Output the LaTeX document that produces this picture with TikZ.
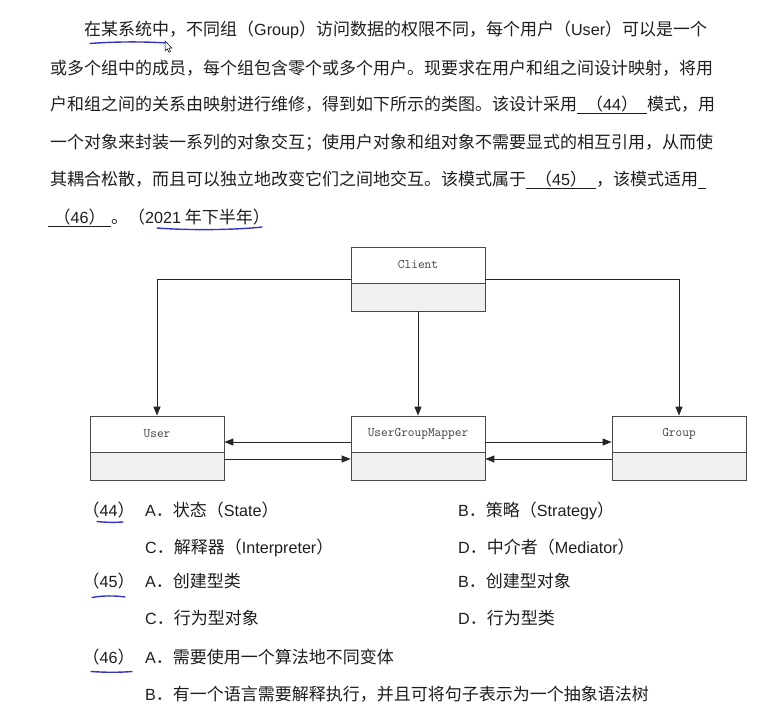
\documentclass[tikz,border=0pt]{standalone}
\usepackage{fontspec}
\usepackage{tikz}
\usetikzlibrary{arrows.meta}
\setmainfont{Noto Sans CJK SC}
\newfontfamily\latfont{Liberation Sans}[Scale=0.95]
\XeTeXlinebreaklocale "zh"
\XeTeXlinebreakskip=0pt plus 1pt
\newcommand\eng[1]{{\latfont #1}}
\newcommand\blank[2]{\makebox[#1]{#2}\hspace{-#1}\rule[-3.5pt]{#1}{0.8pt}}
\definecolor{txtc}{HTML}{1E1E1E}
\definecolor{boxc}{HTML}{4A4A4A}
\definecolor{penc}{HTML}{3535C8}

\begin{document}
\begin{tikzpicture}[x=1pt,y=-1pt,
  >={Triangle[length=9pt,width=7pt]},
  txt/.style={anchor=base west, inner sep=0pt, text=txtc, font=\fontsize{17}{20}\selectfont},
  cls/.style={draw=boxc, line width=0.8pt, fill=white, minimum width=134pt, minimum height=36pt, inner sep=0pt, text=black!75, font=\ttfamily\fontsize{13}{13}\selectfont},
  body/.style={draw=boxc, line width=0.8pt, fill=black!6, minimum width=134pt, minimum height=28pt, inner sep=0pt},
  link/.style={->, line width=0.9pt, draw=black!85},
  penline/.style={draw=penc, line width=1.4pt, line cap=round}]
\fill[white] (0,0) rectangle (777,716);
\useasboundingbox (0,0) rectangle (777,716);

\node[txt] (l1) at (84,35) {\hbox to 626pt{在某系统中，不同组（\eng{Group}）访问数据的权限不同，每个用户（\eng{User}）可以是一个}};
\node[txt] (l2) at (50,74) {\hbox to 663pt{或多个组中的成员，每个组包含零个或多个用户。现要求在用户和组之间设计映射，将用}};
\node[txt] (l3) at (50,110) {户和组之间的关系由映射进行维修，得到如下所示的类图。该设计采用\blank{70pt}{（\eng{44}）}模式，用};
\node[txt] (l4) at (50,148) {\hbox to 663pt{一个对象来封装一系列的对象交互；使用户对象和组对象不需要显式的相互引用，从而使}};
\node[txt] (l5) at (50,185) {其耦合松散，而且可以独立地改变它们之间地交互。该模式属于\blank{70pt}{（\eng{45}）}，该模式适用\rule[-3.5pt]{8pt}{0.8pt}};
\node[txt] (l6) at (48,223) {\blank{63pt}{（\eng{46}）}。（\eng{2021} 年下半年）};

\node[cls] (client) at (418,265) {Client};
\node[body] (clientb) at (418,297) {};
\node[cls] (user) at (157,434) {User};
\node[body] (userb) at (157,466) {};
\node[cls] (mapper) at (418,434) {UserGroupMapper};
\node[body] (mapperb) at (418,466) {};
\node[cls] (group) at (679,434) {Group};
\node[body] (groupb) at (679,466) {};

\draw[link] (client.west |- 0,279) -| (user.north);
\draw[link] (client.east |- 0,279) -| (group.north);
\draw[link] (clientb) -- (mapper);
\draw[link] (mapper.west |- 0,442) -- (user.east |- 0,442);
\draw[link] (user.east |- 0,459) -- (mapper.west |- 0,459);
\draw[link] (mapper.east |- 0,442) -- (group.west |- 0,442);
\draw[link] (group.west |- 0,459) -- (mapper.east |- 0,459);

\node[txt] (q44) at (82.5,516) {（\eng{44}）};
\node[txt] (a44) at (145,516) {\eng{A}．状态（\eng{State}）};
\node[txt] (b44) at (458,516) {\eng{B}．策略（\eng{Strategy}）};
\node[txt] (c44) at (145,553) {\eng{C}．解释器（\eng{Interpreter}）};
\node[txt] (d44) at (458,553) {\eng{D}．中介者（\eng{Mediator}）};
\node[txt] (q45) at (82.5,587) {（\eng{45}）};
\node[txt] (a45) at (145,587) {\eng{A}．创建型类};
\node[txt] (b45) at (458,587) {\eng{B}．创建型对象};
\node[txt] (c45) at (145,624) {\eng{C}．行为型对象};
\node[txt] (d45) at (458,624) {\eng{D}．行为型类};
\node[txt] (q46) at (82.5,663) {（\eng{46}）};
\node[txt] (a46) at (145,663) {\eng{A}．需要使用一个算法地不同变体};
\node[txt] (b46) at (145,700) {\eng{B}．有一个语言需要解释执行，并且可将句子表示为一个抽象语法树};

\draw[penline] (90,43.5) .. controls (115,41.5) and (145,41.5) .. (167,43);
\draw[penline] (157,228) .. controls (190,230.5) and (235,230) .. (262,227);
\draw[penline] (97,521.5) .. controls (106,522.5) and (115,522.5) .. (123,522);
\draw[penline] (92,597.5) .. controls (102,595.5) and (115,595.5) .. (125,597);
\draw[penline] (91,671.5) .. controls (105,672.5) and (120,672.5) .. (132,671.5);

\filldraw[fill=white, draw=black, line width=0.5pt] (165,41) -- (165,51) -- (167.3,48.8) -- (169,52.3) -- (170.5,51.6) -- (168.8,48.2) -- (172,48.2) -- cycle;
\end{tikzpicture}
\end{document}
